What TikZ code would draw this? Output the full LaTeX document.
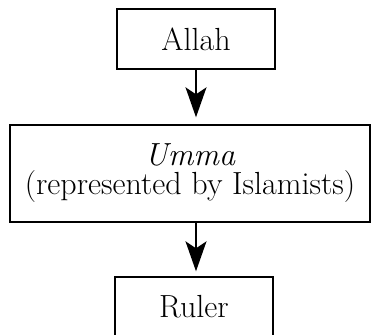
\documentclass[tikz,border=0pt]{standalone}
\usetikzlibrary{arrows.meta}
\begin{document}
\begin{tikzpicture}[x=1pt,y=1pt,
  boxnode/.style={draw,line width=1.4pt,inner sep=0pt,align=center,font=\fontsize{32}{29}\selectfont},
  flowarrow/.style={line width=1.4pt,-{Stealth[length=30pt,width=21pt,inset=7pt]}}]
\useasboundingbox (0,0) rectangle (373,335);
\clip (0,0) rectangle (373,335);
\node[boxnode,minimum width=158pt,minimum height=60pt] (allah) at (196,296) {Allah};
\node[boxnode,minimum width=360pt,minimum height=97pt] (umma) at (190,161.5) {\textit{Umma}\\(represented by Islamists)};
\node[boxnode,minimum width=158pt,minimum height=60pt] (ruler) at (194,28) {Ruler};
\draw[flowarrow,shorten >=7pt] (allah.south) -- (allah.south |- umma.north);
\draw[flowarrow,shorten >=5pt] (umma.south -| allah.south) -- (allah.south |- ruler.north);
\end{tikzpicture}
\end{document}
